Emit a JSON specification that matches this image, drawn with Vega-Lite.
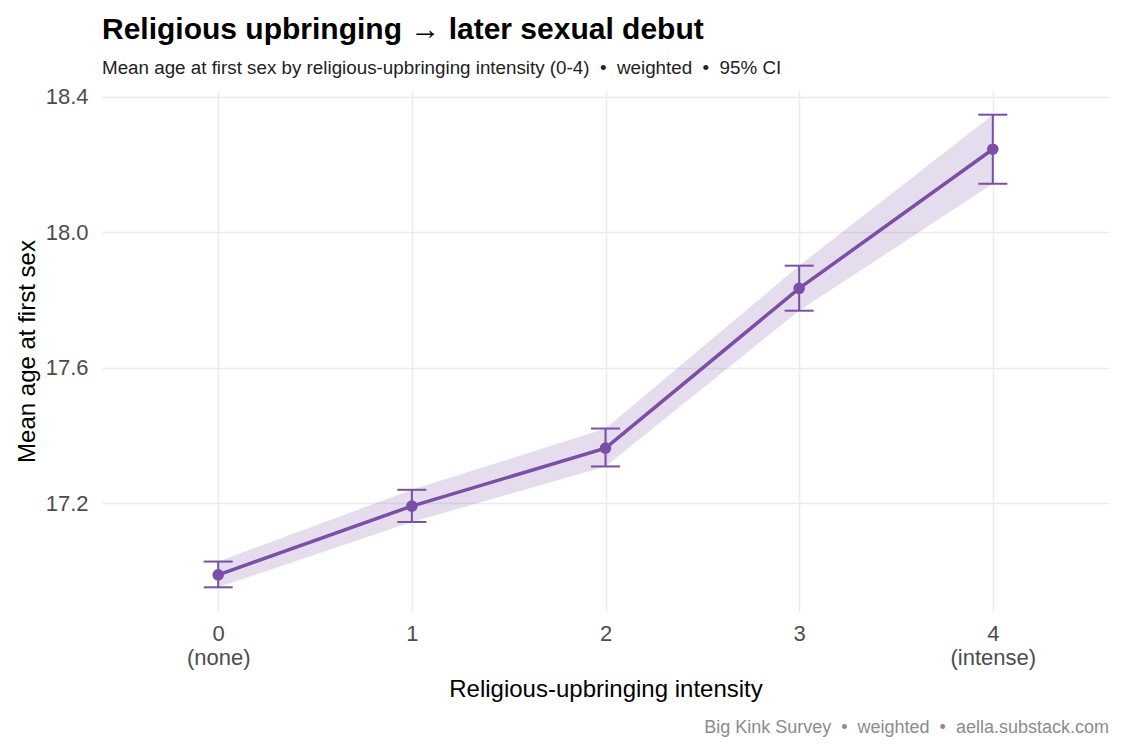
{
  "$schema": "https://vega.github.io/schema/vega-lite/v6.json",
  "width": 1007,
  "height": 520,
  "autosize": {"type": "none"},
  "padding": {"left": 102, "top": 91, "right": 16, "bottom": 139},
  "background": "white",
  "config": {
    "view": {"stroke": null},
    "font": "Liberation Sans",
    "axis": {
      "grid": true,
      "gridColor": "#EBEBEB",
      "gridWidth": 1.6,
      "domain": false,
      "ticks": false,
      "labelFont": "Liberation Sans",
      "labelFontSize": 22,
      "labelColor": "#4D4D4D",
      "titleFont": "Liberation Sans",
      "titleFontSize": 24,
      "titleFontWeight": "normal",
      "titleColor": "#000000"
    }
  },
  "title": {
    "text": "Religious upbringing → later sexual debut",
    "subtitle": "Mean age at first sex by religious-upbringing intensity (0-4) \u00a0•\u00a0 weighted \u00a0•\u00a0 95% CI",
    "anchor": "start",
    "frame": "group",
    "font": "Liberation Sans",
    "fontSize": 30,
    "fontWeight": "bold",
    "color": "#000000",
    "subtitleFont": "Liberation Sans",
    "subtitleFontSize": 18.8,
    "subtitleColor": "#222222",
    "subtitlePadding": 14,
    "offset": 8
  },
  "data": {
    "values": [
      {"level": 0, "mean": 16.988, "lo": 16.951, "hi": 17.027},
      {"level": 1, "mean": 17.191, "lo": 17.144, "hi": 17.239},
      {"level": 2, "mean": 17.362, "lo": 17.308, "hi": 17.420},
      {"level": 3, "mean": 17.834, "lo": 17.768, "hi": 17.901},
      {"level": 4, "mean": 18.245, "lo": 18.143, "hi": 18.347}
    ]
  },
  "layer": [
    {
      "mark": {"type": "area", "color": "#7B4FA6", "opacity": 0.2},
      "encoding": {
        "x": {
          "field": "level",
          "type": "quantitative",
          "scale": {"domain": [-0.6, 4.6], "nice": false, "zero": false},
          "axis": {
            "values": [0, 1, 2, 3, 4],
            "format": "d",
            "labelExpr": "datum.value == 0 ? ['0', '(none)'] : datum.value == 4 ? ['4', '(intense)'] : datum.label",
            "labelLineHeight": 24,
            "labelPadding": 12,
            "title": "Religious-upbringing intensity",
            "titlePadding": 9
          }
        },
        "y": {
          "field": "lo",
          "type": "quantitative",
          "scale": {"domain": [16.881, 18.417], "nice": false, "zero": false},
          "axis": {
            "values": [17.2, 17.6, 18.0, 18.4],
            "format": ".1f",
            "labelPadding": 14,
            "title": "Mean age at first sex",
            "titlePadding": 6
          }
        },
        "y2": {"field": "hi"}
      }
    },
    {
      "mark": {"type": "line", "color": "#7B4FA6", "strokeWidth": 3.5},
      "encoding": {
        "x": {"field": "level", "type": "quantitative"},
        "y": {"field": "mean", "type": "quantitative"}
      }
    },
    {
      "mark": {"type": "rule", "color": "#7B4FA6", "strokeWidth": 2},
      "encoding": {
        "x": {"field": "level", "type": "quantitative"},
        "y": {"field": "lo", "type": "quantitative"},
        "y2": {"field": "hi"}
      }
    },
    {
      "mark": {"type": "tick", "orient": "horizontal", "color": "#7B4FA6", "size": 29, "thickness": 2, "opacity": 1},
      "encoding": {
        "x": {"field": "level", "type": "quantitative"},
        "y": {"field": "lo", "type": "quantitative"}
      }
    },
    {
      "mark": {"type": "tick", "orient": "horizontal", "color": "#7B4FA6", "size": 29, "thickness": 2, "opacity": 1},
      "encoding": {
        "x": {"field": "level", "type": "quantitative"},
        "y": {"field": "hi", "type": "quantitative"}
      }
    },
    {
      "mark": {"type": "point", "filled": true, "color": "#7B4FA6", "size": 135, "opacity": 1},
      "encoding": {
        "x": {"field": "level", "type": "quantitative"},
        "y": {"field": "mean", "type": "quantitative"}
      }
    },
    {
      "data": {"values": [{"caption": "Big Kink Survey \u00a0•\u00a0 weighted \u00a0•\u00a0 aella.substack.com"}]},
      "mark": {"type": "text", "align": "right", "baseline": "middle", "fontSize": 18, "color": "#8C8C8C", "font": "Liberation Sans"},
      "encoding": {
        "x": {"datum": 4.6, "type": "quantitative"},
        "y": {"datum": 16.535, "type": "quantitative"},
        "text": {"field": "caption"}
      }
    }
  ]
}
